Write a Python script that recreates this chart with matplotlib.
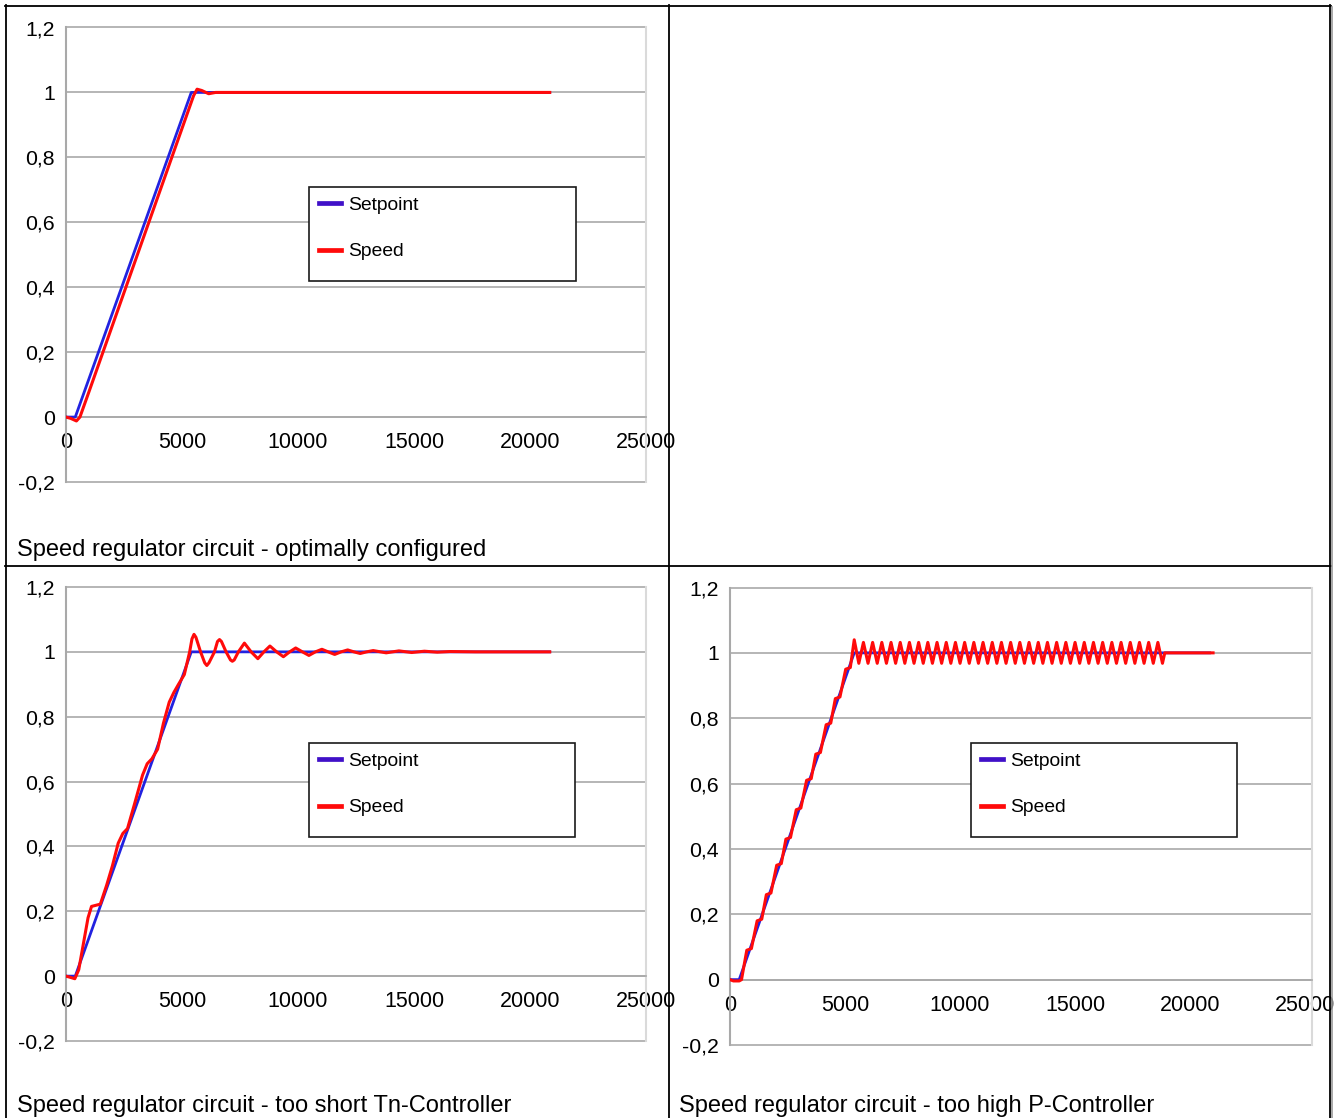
import numpy as np
import matplotlib
matplotlib.use("Agg")
import matplotlib.pyplot as plt
from matplotlib.lines import Line2D
from matplotlib.patches import Rectangle

plt.rcParams['font.family'] = ['Liberation Sans', 'DejaVu Sans']

# ---- data ----
x_ticks = [0, 5000, 10000, 15000, 20000, 25000]
x_tick_labels = ['0', '5000', '10000', '15000', '20000', '25000']
y_ticks = [-0.2, 0.0, 0.2, 0.4, 0.6, 0.8, 1.0, 1.2]
y_tick_labels = ['-0,2', '0', '0,2', '0,4', '0,6', '0,8', '1', '1,2']

setpoint_t = [0, 400, 5400, 20850]
setpoint_v = [0.0, 0.0, 1.0, 1.0]

# optimally configured
opt_t = [0, 200, 450, 600, 1000, 5500, 5650, 5850, 6150, 6450, 20850]
opt_v = [0.0, -0.004, -0.012, 0.0, 0.08, 0.99, 1.01, 1.006, 0.996, 1.0, 1.0]

# too short Tn
tn_t = [0, 200, 380, 550, 750, 950, 1100, 1480, 1750, 2000, 2250, 2450, 2650,
        2950, 3300, 3500, 3700, 3950, 4200, 4450, 4650, 4850, 5100, 5330,
        5430, 5517, 5600, 5800, 5980, 6070, 6160, 6400, 6530, 6617, 6700,
        6900, 7090, 7170, 7250, 7430, 7690, 7980, 8270, 8530, 8790, 9080, 9370,
        9640, 9900, 10190, 10470, 10750, 11030, 11300, 11580, 11860, 12140,
        12410, 12680, 12960, 13240, 13800, 14350, 14900, 15450, 16000, 16550,
        17650, 20850]
tn_v = [0.0, -0.004, -0.008, 0.02, 0.1, 0.18, 0.215, 0.222, 0.28, 0.34, 0.41, 0.44, 0.455,
        0.53, 0.62, 0.655, 0.67, 0.7, 0.78, 0.845, 0.875, 0.9, 0.93, 1.0,
        1.04, 1.054, 1.045, 1.0, 0.966, 0.958, 0.966, 1.0, 1.032, 1.038, 1.032,
        1.0, 0.975, 0.971, 0.975, 1.0, 1.027, 1.0, 0.979, 1.0, 1.018, 1.0, 0.985,
        1.0, 1.012, 1.0, 0.989, 1.0, 1.008, 1.0, 0.992, 1.0, 1.006,
        1.0, 0.995, 1.0, 1.004, 0.997, 1.003, 0.998, 1.002, 0.999, 1.001,
        1.0, 1.0]

# too high P: staircase ramp, then sustained oscillation
hp_ramp_t = [0, 150, 400, 500, 730, 930, 1180, 1380, 1580, 1780, 2030, 2230, 2430, 2630,
             2880, 3080, 3330, 3530, 3730, 3930, 4180, 4380, 4580, 4780, 5030, 5230]
hp_ramp_v = [0.0, -0.004, -0.004, 0.0, 0.09, 0.095, 0.18, 0.185, 0.26, 0.265, 0.35, 0.355, 0.43, 0.435,
             0.52, 0.525, 0.61, 0.615, 0.69, 0.695, 0.78, 0.785, 0.86, 0.865, 0.95, 0.955]
hp_peak_t = [5400, 5800, 6200, 6600, 7000, 7400, 7800, 8200, 8600, 9000, 9400, 9800,
             10200, 10600, 11000, 11400, 11800, 12200, 12600, 13000, 13400, 13800,
             14200, 14600, 15000, 15400, 15800, 16200, 16600, 17000, 17400, 17800,
             18200, 18600]
hp_peak_v = [1.04, 1.032, 1.032, 1.032, 1.032, 1.032, 1.032, 1.032, 1.032, 1.032, 1.032, 1.032,
             1.032, 1.032, 1.032, 1.032, 1.032, 1.032, 1.032, 1.032, 1.032, 1.032,
             1.032, 1.032, 1.032, 1.032, 1.032, 1.032, 1.032, 1.032, 1.032, 1.032,
             1.032, 1.032]
hp_trough_t = [5600, 6000, 6400, 6800, 7200, 7600, 8000, 8400, 8800, 9200, 9600, 10000,
               10400, 10800, 11200, 11600, 12000, 12400, 12800, 13200, 13600, 14000,
               14400, 14800, 15200, 15600, 16000, 16400, 16800, 17200, 17600, 18000,
               18400, 18800]
hp_trough_v = [0.968, 0.968, 0.968, 0.968, 0.968, 0.968, 0.968, 0.968, 0.968, 0.968, 0.968, 0.968,
               0.968, 0.968, 0.968, 0.968, 0.968, 0.968, 0.968, 0.968, 0.968, 0.968,
               0.968, 0.968, 0.968, 0.968, 0.968, 0.968, 0.968, 0.968, 0.968, 0.968,
               0.968, 0.968]
hp_tail_t = [18900, 21000]
hp_tail_v = [1.0, 1.0]

hp_t = np.concatenate([hp_ramp_t, hp_peak_t, hp_trough_t, hp_tail_t])
hp_v = np.concatenate([hp_ramp_v, hp_peak_v, hp_trough_v, hp_tail_v])
order = np.argsort(hp_t)
hp_t, hp_v = hp_t[order], hp_v[order]

captions = ['Speed regulator circuit - optimally configured',
            'Speed regulator circuit - too short Tn-Controller',
            'Speed regulator circuit - too high P-Controller']

# ---- layout (pixels) ----
W, H = 1335, 1118
BLUE = '#2222e0'
BLUE_LEG = '#4010c8'
RED = '#ff0a0a'
GRID = '#a9a9a9'

fig = plt.figure(figsize=(W / 100, H / 100), dpi=100)


def fx(x):
    return x / W


def fy(y):
    return 1 - y / H


def draw_panel(box, xmax, leg_box, cap_xy, caption, speed_t, speed_v):
    l, t, r, b = box
    ax = fig.add_axes([fx(l), fy(b), (r - l) / W, (b - t) / H])
    # x axis sits on y=0 (set before ticks, it resets them)
    ax.spines['bottom'].set_position(('data', 0))
    ax.spines['bottom'].set_color(GRID)
    ax.spines['bottom'].set_linewidth(1.2)
    ax.spines['top'].set_visible(False)
    ax.spines['right'].set_color('#dadada')
    ax.spines['right'].set_linewidth(1.5)
    ax.spines['left'].set_color(GRID)
    ax.spines['left'].set_linewidth(1.5)

    ax.plot(setpoint_t, setpoint_v, color=BLUE, lw=2.0, label='Setpoint',
            zorder=3, solid_joinstyle='round')
    ax.plot(speed_t, speed_v, color=RED, lw=2.2, label='Speed',
            zorder=4, solid_joinstyle='round')
    ax.set_xlim(0, xmax)
    ax.set_ylim(-0.2, 1.2)
    ax.set_xticks(x_ticks, labels=x_tick_labels)
    ax.set_yticks(y_ticks, labels=y_tick_labels)
    ax.tick_params(length=0)
    ax.tick_params(axis='x', pad=11, labelsize=15.5)
    ax.tick_params(axis='y', pad=8, labelsize=15.3)
    ax.yaxis.grid(True, color=GRID, lw=1.2)
    for gl in ax.get_ygridlines():
        gl.set_clip_on(False)
    ax.set_axisbelow(True)
    ax.patch.set_alpha(0)

    # legend box with the entries at its top
    bl, bt, br, bb = leg_box
    ax.add_artist(Rectangle((fx(bl), fy(bb)), (br - bl) / W, (bb - bt) / H,
                            transform=fig.transFigure, facecolor='white',
                            edgecolor='#1a1a1a', lw=1.2, zorder=5, clip_on=False))
    leg = ax.legend(loc='upper left', bbox_to_anchor=(fx(bl + 10), fy(bt + 9)),
                    bbox_transform=fig.transFigure, frameon=False, borderpad=0,
                    borderaxespad=0, handlelength=1.16, handletextpad=0.37,
                    labelspacing=1.52, fontsize=13.9)
    leg.set_zorder(6)
    leg.legend_handles[0].set_color(BLUE_LEG)
    for h in leg.legend_handles:
        h.set_linewidth(3.4)

    fig.text(fx(cap_xy[0]), fy(cap_xy[1]), caption, fontsize=17,
             ha='left', va='baseline')
    return ax


draw_panel((66, 27.5, 646, 482), 25000, (309, 187, 576, 281), (17, 556), captions[0], opt_t, opt_v)
draw_panel((66, 587, 646, 1041), 25000, (309, 743, 575, 837), (17, 1112), captions[1], tn_t, tn_v)
draw_panel((730, 587.5, 1312, 1045), 25300, (971, 743, 1237, 837), (679, 1112), captions[2], hp_t, hp_v)

# table borders
borders = [((5, 5.5), (1331, 5.5)), ((5.5, 5), (5.5, 1118)), ((1330, 5), (1330, 1118)),
           ((668.5, 5), (668.5, 1118)), ((5, 566), (1331, 566))]
for (x0, y0), (x1, y1) in borders:
    fig.add_artist(Line2D([fx(x0), fx(x1)], [fy(y0), fy(y1)], transform=fig.transFigure,
                          color='black', lw=1.3))
fig.add_artist(Line2D([fx(1332), fx(1332)], [fy(7), fy(1118)], transform=fig.transFigure,
                      color='#9a9a9a', lw=1.2))

fig.savefig('out.png', dpi=100)
